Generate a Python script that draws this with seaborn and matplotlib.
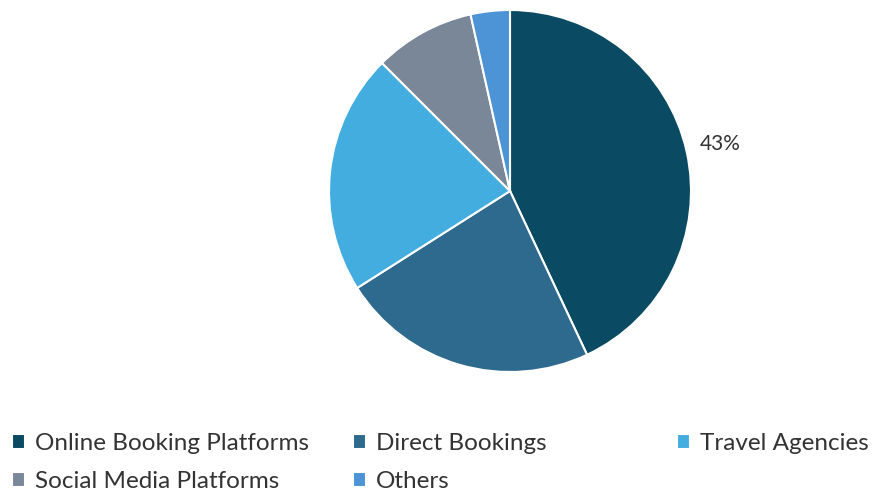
import matplotlib
matplotlib.use("Agg")
import matplotlib.pyplot as plt
import seaborn as sns

# Share of bookings by channel (%)
channels = [
    "Online Booking Platforms",
    "Direct Bookings",
    "Travel Agencies",
    "Social Media Platforms",
    "Others",
]
shares = [43, 23, 21.5, 9, 3.5]
colors = ["#0A4A62", "#2D6A8E", "#44ADE0", "#7A8799", "#4C94D6"]

sns.set_theme(style="white")
plt.rcParams["font.family"] = ["Lato", "DejaVu Sans"]

W, H = 879, 493
fig = plt.figure(figsize=(W / 100, H / 100), dpi=100)

# pie centred at (510, 191) px with radius 181 px
cx, cy, r = 510, 191, 181
ax = fig.add_axes([(cx - r) / W, (H - cy - r) / H, 2 * r / W, 2 * r / H])

wedges, texts, autotexts = ax.pie(
    shares,
    colors=sns.color_palette(colors),
    startangle=90,
    counterclock=False,
    radius=1,
    autopct=lambda p: f"{p:.0f}%" if p > 40 else "",
    pctdistance=1.19,
    wedgeprops=dict(edgecolor="white", linewidth=1.5),
    textprops=dict(fontsize=15, color="#333333"),
)
ax.set_xlim(-1, 1)
ax.set_ylim(-1, 1)
ax.set_aspect("equal")
ax.axis("off")

# legend: three columns placed by hand to match the spacing
columns = [[0, 3], [1, 4], [2]]
col_x = [12, 353, 677]
for idx, x in zip(columns, col_x):
    fig.legend(
        [wedges[i] for i in idx],
        [channels[i] for i in idx],
        loc="upper left",
        bbox_to_anchor=(x / W, 1 - 433 / H),
        frameon=False,
        fontsize=17.5,
        handlelength=0.55,
        handleheight=0.55,
        handletextpad=0.4,
        labelspacing=0.7,
        labelcolor="#333333",
        borderaxespad=0,
        borderpad=0,
    )

fig.savefig("out.png", dpi=100)
